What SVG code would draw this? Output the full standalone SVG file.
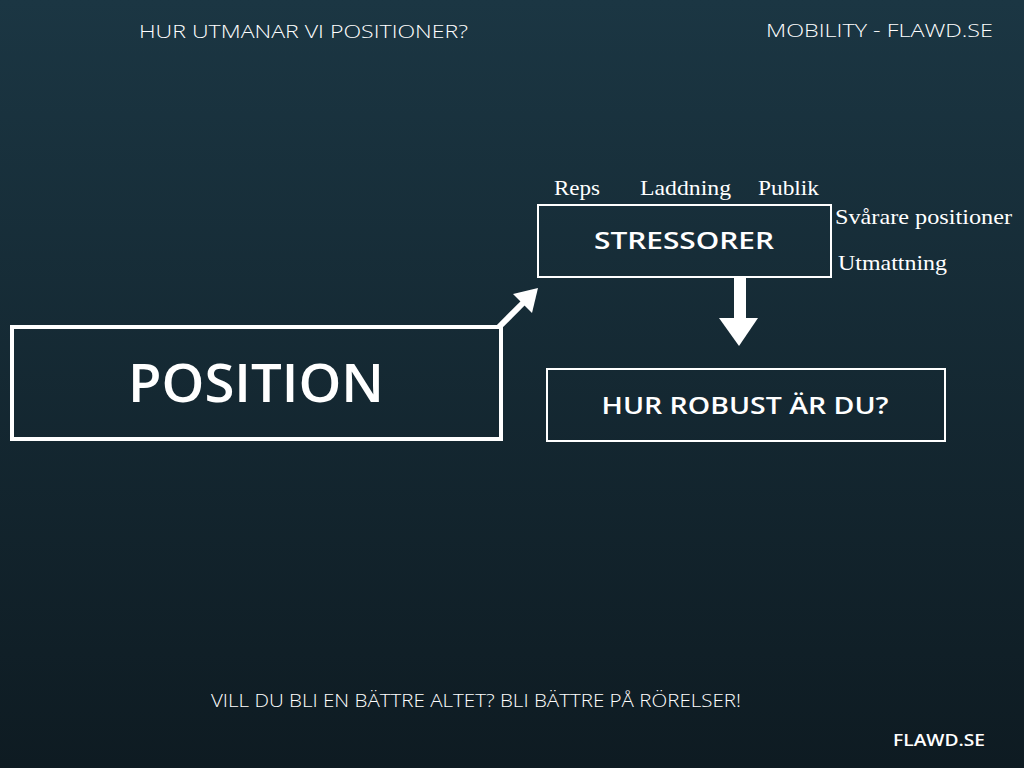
<svg xmlns="http://www.w3.org/2000/svg" width="1024" height="768" viewBox="0 0 1024 768">
<defs>
<linearGradient id="bg" x1="0" y1="0" x2="0" y2="1">
<stop offset="0" stop-color="#1b3643"/>
<stop offset="1" stop-color="#0e1b22"/>
</linearGradient>
<style>
.sans{font-family:"Open Sans","Liberation Sans",sans-serif;fill:#ffffff}
.light{font-weight:300}
.bold{font-weight:600}
.serif{font-family:"Liberation Serif","DejaVu Serif",serif;fill:#ffffff;font-size:21px}
.box{fill:none;stroke:#ffffff}
</style>
</defs>
<rect width="1024" height="768" fill="url(#bg)"/>
<text class="sans light" x="139" y="38" font-size="19" textLength="329" lengthAdjust="spacingAndGlyphs">HUR UTMANAR VI POSITIONER?</text>
<text class="sans light" x="766" y="37" font-size="19" textLength="227" lengthAdjust="spacingAndGlyphs">MOBILITY - FLAWD.SE</text>
<g id="connectors">
<line x1="499" y1="327" x2="524" y2="302" stroke="#fff" stroke-width="6"/>
<polygon points="538,288 532,313 513,294" fill="#fff"/>
<rect x="734" y="277" width="12" height="43" fill="#fff"/>
<polygon points="719,318 758,318 739,346" fill="#fff"/>
</g>
<g id="labels">
<text class="serif" x="554" y="195" textLength="46" lengthAdjust="spacingAndGlyphs">Reps</text>
<text class="serif" x="640" y="195" textLength="91" lengthAdjust="spacingAndGlyphs">Laddning</text>
<text class="serif" x="758" y="195" textLength="61" lengthAdjust="spacingAndGlyphs">Publik</text>
<text class="serif" x="835" y="224" textLength="177" lengthAdjust="spacingAndGlyphs">Svårare positioner</text>
<text class="serif" x="838" y="270" textLength="109" lengthAdjust="spacingAndGlyphs">Utmattning</text>
</g>
<g id="stressorer">
<rect class="box" x="538" y="205" width="293" height="72" stroke-width="2"/>
<text class="sans bold" x="684" y="249" font-size="24" text-anchor="middle" textLength="180" lengthAdjust="spacingAndGlyphs">STRESSORER</text>
</g>
<g id="position">
<rect class="box" x="12" y="327" width="489" height="112" stroke-width="4"/>
<text class="sans bold" x="256" y="402" font-size="52" text-anchor="middle" textLength="256" lengthAdjust="spacingAndGlyphs">POSITION</text>
</g>
<g id="robust">
<rect class="box" x="547" y="369" width="398" height="72" stroke-width="2"/>
<text class="sans bold" x="745" y="414" font-size="24" text-anchor="middle" textLength="287" lengthAdjust="spacingAndGlyphs">HUR ROBUST ÄR DU?</text>
</g>
<text class="sans light" x="211" y="707" font-size="18" textLength="530" lengthAdjust="spacingAndGlyphs">VILL DU BLI EN BÄTTRE ALTET? BLI BÄTTRE PÅ RÖRELSER!</text>
<text class="sans bold" x="893" y="746" font-size="17" textLength="92" lengthAdjust="spacingAndGlyphs">FLAWD.SE</text>
</svg>
